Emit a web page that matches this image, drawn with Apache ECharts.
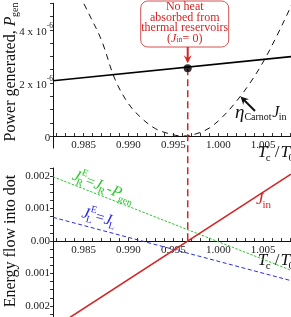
<!DOCTYPE html>
<html><head><meta charset="utf-8">
<script src="https://cdn.jsdelivr.net/npm/echarts@6/dist/echarts.min.js"></script>
<style>html,body{margin:0;padding:0;background:#fff}#c{width:291px;height:317px}</style>
</head><body><div id="c"></div>
<script>
// ---------- data ----------
const xRange = [0.9816, 1.0081];
const xLabelTicks = [0.985, 0.990, 0.995, 1.000, 1.005];
const xMinorTicks = [0.982,0.983,0.984,0.985,0.986,0.987,0.988,0.989,0.990,0.991,0.992,0.993,0.994,0.995,0.996,0.997,0.998,0.999,1.000,1.001,1.002,1.003,1.004,1.005,1.006,1.007,1.008];

// top panel
const topYRange = [-0.45e-6, 5e-6];
const topYLabels = [0, 2e-6, 4e-6];
const topYTicks = [0,0.5e-6,1e-6,1.5e-6,2e-6,2.5e-6,3e-6,3.5e-6,4e-6,4.5e-6,5e-6];
const pgenX = [0.9816, 1.0081];
const pgenY = [2.08e-6, 2.99e-6];
const carnotX = [0.9845,0.9855,0.9870,0.9885,0.9900,0.9915,0.9930,0.9945,0.9960,0.9975,0.9990,1.0005,1.0020,1.0035,1.0050,1.0065,1.0080,1.0090];
const carnotY = [5.35e-6,4.67e-6,3.61e-6,2.14e-6,1.22e-6,0.66e-6,0.28e-6,0.09e-6,0.0,0.08e-6,0.3e-6,0.73e-6,1.3e-6,1.98e-6,2.79e-6,3.76e-6,4.82e-6,5.6e-6];
const zeroX = 0.9966;       // J_in = 0
const zeroPgen = 2.55e-6;

// bottom panel
const botYRange = [-0.00234, 0.00225];
const botYLabels = [-0.002, -0.001, 0, 0.001, 0.002];
const botYTicks = [-0.00225,-0.002,-0.00175,-0.0015,-0.00125,-0.001,-0.00075,-0.0005,-0.00025,0,0.00025,0.0005,0.00075,0.001,0.00125,0.0015,0.00175,0.002,0.00225];
const jinX = [0.9816, 1.0081];
const jinY = [-0.00269, 0.00206];
const jrX = [0.9816, 1.0081];
const jrY = [0.00198, -0.00090];
const jlX = [0.9816, 1.0081];
const jlY = [0.00073, -0.00122];

// ---------- styling ----------
const SERIF = '"Liberation Serif", "Times New Roman", serif';
const RED = '#d42424', GREEN = '#2ec52e', BLUE = '#2b2be0';
const zip = (a, b) => a.map((v, i) => [v, b[i]]);
const GRIDS = [
  {left: 53, right: 0, top: 3.3, height: 144.7},
  {left: 53, right: 0, top: 168, height: 149}
];
const YR = [topYRange, botYRange];

const chart = echarts.init(document.getElementById('c'), null, {renderer: 'canvas'});

function xAxisDef(gi) {
  // place the axis where y = 0 of its panel (offset from the grid bottom)
  const r = YR[gi];
  const zeroOffset = -(0 - r[0]) / (r[1] - r[0]) * GRIDS[gi].height;
  return {
    type: 'value', gridIndex: gi, min: xRange[0], max: xRange[1], position: 'bottom', offset: zeroOffset,
    axisLine: {onZero: false, lineStyle: {color: '#111', width: 1}},
    axisTick: {show: true, inside: true, length: 3, customValues: xMinorTicks, lineStyle: {color: '#333'}},
    axisLabel: {customValues: xLabelTicks, formatter: v => v.toFixed(3), fontFamily: SERIF, fontSize: 11, color: '#222', margin: 4},
    splitLine: {show: false}
  };
}

chart.setOption({
  animation: false,
  grid: GRIDS.map(g => Object.assign({containLabel: false, outerBoundsMode: 'none'}, g)),
  xAxis: [xAxisDef(0), xAxisDef(1)],
  yAxis: [
    {
      type: 'value', gridIndex: 0, min: topYRange[0], max: topYRange[1],
      axisLine: {show: true, onZero: false, lineStyle: {color: '#111', width: 1}},
      axisTick: {show: true, length: 3, customValues: topYTicks, lineStyle: {color: '#333'}},
      axisLabel: {
        customValues: topYLabels, margin: 0,
        formatter: v => v === 0 ? '{n|0 }' : '{n|' + Math.round(v / 1e-6) + ' x 10}{s|-6}',
        rich: {
          n: {fontFamily: SERIF, fontSize: 11, color: '#222', lineHeight: 16, verticalAlign: 'bottom'},
          s: {fontFamily: SERIF, fontSize: 7.5, color: '#222', lineHeight: 9, verticalAlign: 'top'}
        }
      },
      splitLine: {show: false}
    },
    {
      type: 'value', gridIndex: 1, min: botYRange[0], max: botYRange[1],
      axisLine: {show: true, onZero: false, lineStyle: {color: '#111', width: 1}},
      axisTick: {show: true, length: 3, customValues: botYTicks, lineStyle: {color: '#333'}},
      axisLabel: {
        customValues: botYLabels, margin: 3,
        formatter: v => Math.abs(v) < 1e-9 ? '0.00' : Math.abs(v).toFixed(3),
        fontFamily: SERIF, fontSize: 11, color: '#222'
      },
      splitLine: {show: false}
    }
  ],
  series: [
    {type: 'line', xAxisIndex: 0, yAxisIndex: 0, data: zip(carnotX, carnotY), smooth: 0.35, symbol: 'none',
     lineStyle: {color: '#111', width: 1, type: [6, 5]}, z: 2},
    {type: 'line', xAxisIndex: 0, yAxisIndex: 0, data: zip(pgenX, pgenY), symbol: 'none',
     lineStyle: {color: '#000', width: 1.6}, z: 3},
    {type: 'scatter', xAxisIndex: 0, yAxisIndex: 0, data: [[zeroX, zeroPgen]], symbol: 'circle', symbolSize: 8,
     itemStyle: {color: '#000'}, z: 10},
    {type: 'line', xAxisIndex: 1, yAxisIndex: 1, data: zip(jrX, jrY), symbol: 'none',
     lineStyle: {color: GREEN, width: 1, type: [2.5, 1.5]}, z: 2},
    {type: 'line', xAxisIndex: 1, yAxisIndex: 1, data: zip(jlX, jlY), symbol: 'none',
     lineStyle: {color: BLUE, width: 1, type: [4, 2.5]}, z: 2},
    {type: 'line', xAxisIndex: 1, yAxisIndex: 1, data: zip(jinX, jinY), symbol: 'none',
     lineStyle: {color: RED, width: 1.6}, z: 3}
  ]
});

// ---------- annotations ----------
const mctx = document.createElement('canvas').getContext('2d');
function fontOf(it) { return (it.i ? 'italic ' : '') + it.s + 'px ' + SERIF; }
function mathGroup(pieces, x, y, rot, color, anchor) {
  const children = []; let cx = 0;
  for (const p of pieces) {
    const items = p.stack ? p.stack : [p];
    let w = 0;
    for (const it of items) {
      const font = fontOf(it);
      mctx.font = font;
      const tw = mctx.measureText(it.t).width;
      children.push({type: 'text', x: cx + (it.dx || 0), y: it.dy || 0,
        style: {text: it.t, font: font, fill: color, align: 'left', verticalAlign: 'middle', textAlign: 'left', textVerticalAlign: 'middle'}});
      w = Math.max(w, tw + (it.dx || 0));
    }
    cx += w + (p.gap || 0);
  }
  const shift = anchor === 'right' ? cx : anchor === 'center' ? cx / 2 : 0;
  return {type: 'group', x: x, y: y, rotation: rot, z: 50,
    children: [{type: 'group', x: -shift, y: 0, children: children}]};
}
function arrowHead(tip, from, len, half, color) {
  const dx = tip[0] - from[0], dy = tip[1] - from[1];
  const L = Math.hypot(dx, dy), ux = dx / L, uy = dy / L;
  const bx = tip[0] - ux * len, by = tip[1] - uy * len;
  const nx = -uy, ny = ux;
  const mx = tip[0] - ux * len * 0.65, my = tip[1] - uy * len * 0.65;
  return {type: 'polygon', shape: {points: [tip, [bx + nx * half, by + ny * half], [mx, my], [bx - nx * half, by - ny * half]]},
    style: {fill: color}, z: 60};
}

const P = chart.convertToPixel({xAxisIndex: 0, yAxisIndex: 0}, [zeroX, zeroPgen]);
const Q = chart.convertToPixel({xAxisIndex: 1, yAxisIndex: 1}, [zeroX, 0]);

const tcT0 = [
  {t: 'T', s: 17, i: true},
  {t: 'c', s: 11, dy: 5, dx: -1.5},
  {t: ' /', s: 17, gap: 1},
  {t: 'T', s: 17, i: true},
  {t: '0', s: 11, dy: 5, dx: -1.5}
];

const boxW = 88, boxTop = 1, boxH = 46, boxCx = P[0] - 3;

const graphics = [
  // vertical dashed marker across both panels
  {type: 'line', shape: {x1: P[0], y1: P[1], x2: Q[0], y2: Q[1]},
   style: {stroke: RED, lineWidth: 1.5, lineDash: [7, 4]}, z: 5},
  // annotation box
  {type: 'rect', shape: {x: boxCx - boxW / 2, y: boxTop, width: boxW, height: boxH, r: 7},
   style: {fill: '#fff', stroke: '#d65050', lineWidth: 1}, z: 40},
  {type: 'text', x: boxCx, y: boxTop + 1,
   style: {
     text: '{r|No heat}\n{r|absorbed from}\n{r|thermal reservoirs}\n{r|(}{j|J}{b|in}{r|= 0)}',
     align: 'center', verticalAlign: 'top', textAlign: 'center', textVerticalAlign: 'top',
     rich: {
       r: {fontFamily: SERIF, fontSize: 12, fill: RED, color: RED, lineHeight: 10.5},
       j: {fontFamily: SERIF, fontSize: 12, fontStyle: 'italic', fill: RED, color: RED, lineHeight: 10.5},
       b: {fontFamily: SERIF, fontSize: 8, fill: RED, color: RED, lineHeight: 10.5, verticalAlign: 'bottom'}
     }
   }, z: 45},
  {type: 'line', shape: {x1: P[0], y1: boxTop + boxH, x2: P[0], y2: P[1] - 7},
   style: {stroke: RED, lineWidth: 2}, z: 45},
  arrowHead([P[0], P[1] - 5], [P[0], boxTop + boxH], 8, 4, RED),

  // eta_Carnot J_in label and arrow
  mathGroup([
    {t: 'η', s: 19, i: true},
    {t: 'Carnot', s: 10, dy: 4, gap: 0.5},
    {t: 'J', s: 16, i: true},
    {t: 'in', s: 10, dy: 4, dx: -0.5}
  ], 235, 113, 0, '#111'),
  {type: 'line', shape: {x1: 255, y1: 111, x2: 244, y2: 100}, style: {stroke: '#111', lineWidth: 2}, z: 45},
  arrowHead([240.5, 96.5], [255, 111], 8, 4, '#111'),

  // J_in label (red)
  mathGroup([
    {t: 'J', s: 17, i: true},
    {t: 'in', s: 11, dy: 5, dx: -1}
  ], 256, 200, 0, RED),

  // green label  J_R^E = J_R - P_gen
  mathGroup([
    {t: 'J', s: 16, i: true},
    {stack: [{t: 'E', s: 10, dy: -6, dx: 0.5}, {t: 'R', s: 10, dy: 5, dx: -1.5}], gap: 0.5},
    {t: '=', s: 15, gap: 0.5},
    {t: 'J', s: 16, i: true},
    {t: 'R', s: 10, dy: 5, dx: -1.5, gap: 1},
    {t: '-', s: 15, gap: 0.5},
    {t: 'P', s: 16, i: true},
    {t: 'gen', s: 10, dy: 5, dx: -1}
  ], 73, 175, -0.38, GREEN),

  // blue label  J_L^E = J_L
  mathGroup([
    {t: 'J', s: 16, i: true},
    {stack: [{t: 'E', s: 10, dy: -6, dx: 0.5}, {t: 'L', s: 10, dy: 5, dx: -1.5}], gap: 0.5},
    {t: '=', s: 15, gap: 0.5},
    {t: 'J', s: 16, i: true},
    {t: 'L', s: 10, dy: 5, dx: -1.5}
  ], 82, 213, -0.27, BLUE),

  // axis titles Tc/T0
  mathGroup(tcT0, 294, 153, 0, '#111', 'right'),
  mathGroup(tcT0, 294, 261, 0, '#111', 'right'),

  // y-axis titles (rotated)
  mathGroup([
    {t: 'Power generated, ', s: 16},
    {t: 'P', s: 16, i: true},
    {t: 'gen', s: 10, dy: 4, dx: -0.5}
  ], 11, 72, Math.PI / 2, '#111', 'center'),
  mathGroup([
    {t: 'Energy flow into dot', s: 16}
  ], 11, 241, Math.PI / 2, '#111', 'center')
];
chart.setOption({graphic: graphics});
</script>
</body></html>
